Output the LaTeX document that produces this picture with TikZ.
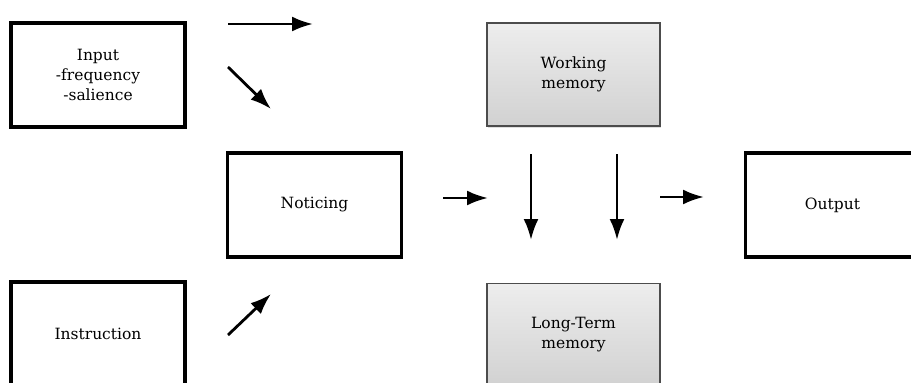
\documentclass[tikz,border=0pt]{standalone}
\usepackage{fontspec}
\setmainfont{DejaVu Serif}
\usetikzlibrary{arrows.meta,shadows}
\tikzset{
  boxtext/.style={font=\fontsize{15.5}{20}\selectfont},
  plainbox/.style={draw=black, line width=3.2pt, fill=white, minimum width=174pt, minimum height=104pt, inner sep=0pt, align=center, boxtext},
  graybox/.style={draw=black!70, line width=1.8pt, top color=black!7, bottom color=black!18, minimum width=173pt, minimum height=103pt, inner sep=0pt, align=center, boxtext, drop shadow={shadow xshift=1pt, shadow yshift=-1.5pt, opacity=0.25}},
  arr/.style={line width=2.8pt, -{Latex[length=21pt,width=15pt]}}
}
\begin{document}
\begin{tikzpicture}[x=1pt,y=-1pt]
\useasboundingbox (0,0) rectangle (911,383);
\clip (0,0) rectangle (911,383);
\node[plainbox] (input) at (98,75) {Input\\-frequency\\-salience};
\node[plainbox] (notice) at (314.5,205) {Noticing};
\node[plainbox] (instr) at (98,334) {Instruction};
\node[plainbox] (output) at (832.5,205) {Output};
\node[graybox] (wm) at (573.5,74.5) {Working\\memory};
\node[graybox] (ltm) at (573.5,335) {Long-Term\\memory};
\coordinate (a1s) at (228,24); \coordinate (a1e) at (313,24);
\coordinate (a2s) at (228,67); \coordinate (a2e) at (271,109);
\coordinate (a3s) at (228,335); \coordinate (a3e) at (271,294);
\coordinate (a4s) at (443,198); \coordinate (a4e) at (488,198);
\coordinate (a5s) at (531,154); \coordinate (a5e) at (531,240);
\coordinate (a6s) at (617,154); \coordinate (a6e) at (617,240);
\coordinate (a7s) at (660,197); \coordinate (a7e) at (704,197);
\draw[arr] (a1s) -- (a1e);
\draw[arr] (a2s) -- (a2e);
\draw[arr] (a3s) -- (a3e);
\draw[arr] (a4s) -- (a4e);
\draw[arr] (a5s) -- (a5e);
\draw[arr] (a6s) -- (a6e);
\draw[arr] (a7s) -- (a7e);
\end{tikzpicture}
\end{document}
